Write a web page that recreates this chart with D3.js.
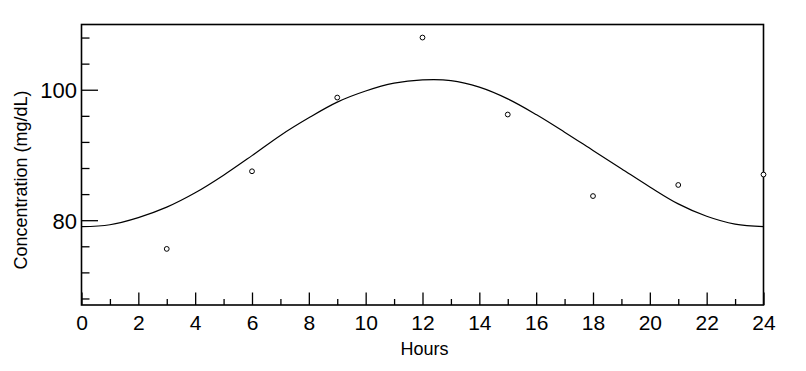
<!DOCTYPE html>
<html>
<head>
<meta charset="utf-8">
<script src="https://cdn.jsdelivr.net/npm/d3@7"></script>
<style>
  body { margin: 0; background: #fff; }
  svg { display: block; font-family: "Liberation Sans", Arial, sans-serif; }
</style>
</head>
<body>
<svg id="chart" width="806" height="371"></svg>
<script>
// observed concentrations
var obsHours = [3, 6, 9, 12, 15, 18, 21, 24];
var obsConc = [75.6, 87.5, 98.8, 108.0, 96.2, 83.7, 85.4, 87.0];

var fitHours = [0,1,2,3,4,5,6,7,8,9,10,11,12,13,14,15,16,17,18,19,20,21,22,23,24];
var fitConc = [79.0,79.3,80.4,82.0,84.2,86.9,89.9,93.0,95.7,98.1,99.8,101.0,101.5,
               101.4,100.4,98.6,96.2,93.5,90.7,87.9,85.1,82.5,80.6,79.4,79.0];

var xMajor = [0,2,4,6,8,10,12,14,16,18,20,22,24];
var xMinor = [1,3,5,7,9,11,13,15,17,19,21,23];
var yMajor = [80, 100];
var yMinor = [68,72,76,84,88,92,96,104,108];

// plot box (window.top is read-only, so keep these in an object)
var box = { left: 81.5, right: 763.5, top: 24.5, bottom: 305 };

var x = d3.scaleLinear().domain([0, 24]).range([box.left, box.right]);
var y = d3.scaleLinear().domain([67, 110]).range([box.bottom, box.top]);

var svg = d3.select("#chart");

// frame
svg.append("rect")
  .attr("x", box.left).attr("y", box.top)
  .attr("width", box.right - box.left).attr("height", box.bottom - box.top)
  .attr("fill", "none").attr("stroke", "#000").attr("stroke-width", 1.6);

// x axis (ticks inward)
var xAxis = svg.append("g").attr("transform", "translate(0," + box.bottom + ")");
xAxis.call(d3.axisBottom(x).tickValues(xMajor).tickSize(-12.5).tickFormat(d3.format("d")));
xAxis.append("g").call(d3.axisBottom(x).tickValues(xMinor).tickSize(-6).tickFormat(""));
xAxis.selectAll(".domain").remove();
xAxis.selectAll("line").attr("stroke", "#000").attr("stroke-width", 1.3);
xAxis.selectAll("text")
  .attr("y", 0).attr("dy", "24.5px")
  .attr("font-size", "21px").attr("fill", "#000")
  .attr("font-family", "Liberation Sans, Arial, sans-serif");

// y axis
var yAxis = svg.append("g").attr("transform", "translate(" + box.left + ",0)");
yAxis.call(d3.axisLeft(y).tickValues(yMajor).tickSize(-16.5).tickFormat(d3.format("d")));
yAxis.append("g").call(d3.axisLeft(y).tickValues(yMinor).tickSize(-8).tickFormat(""));
yAxis.selectAll(".domain").remove();
yAxis.selectAll("line").attr("stroke", "#000").attr("stroke-width", 1.3);
yAxis.selectAll("text")
  .attr("x", -4.5).attr("dy", "8px")
  .attr("font-size", "22px").attr("fill", "#000")
  .attr("font-family", "Liberation Sans, Arial, sans-serif");

// fitted line
var line = d3.line()
  .x(function(d, i) { return x(fitHours[i]); })
  .y(function(d) { return y(d); })
  .curve(d3.curveCatmullRom.alpha(0.5));

svg.append("path")
  .attr("d", line(fitConc))
  .attr("fill", "none")
  .attr("stroke", "#000")
  .attr("stroke-width", 1.2);

// observed points
svg.selectAll("circle.obs")
  .data(obsConc)
  .enter()
  .append("circle")
  .attr("class", "obs")
  .attr("cx", function(d, i) { return x(obsHours[i]); })
  .attr("cy", function(d) { return y(d); })
  .attr("r", 2.4)
  .attr("fill", "#fff")
  .attr("stroke", "#000")
  .attr("stroke-width", 1);

// axis titles
svg.append("text")
  .attr("x", (box.left + box.right) / 2 + 2)
  .attr("y", 355)
  .attr("text-anchor", "middle")
  .attr("font-size", "18px")
  .text("Hours");

svg.append("text")
  .attr("transform", "translate(27,180) rotate(-90)")
  .attr("text-anchor", "middle")
  .attr("font-size", "18px")
  .text("Concentration (mg/dL)");
</script>
</body>
</html>
